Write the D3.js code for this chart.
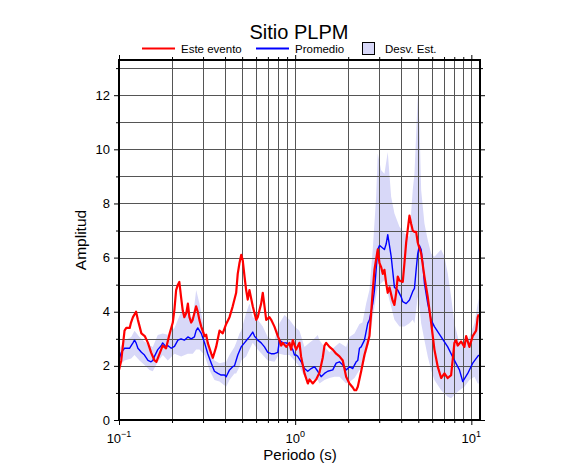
<!DOCTYPE html>
<html><head><meta charset="utf-8">
<script src="https://cdn.jsdelivr.net/npm/d3@7"></script>
<style>
body{margin:0;background:#fff;}
svg{display:block;font-family:"Liberation Sans",Arial,Helvetica,sans-serif;}
</style>
</head><body>
<svg id="c" width="586" height="475"></svg>
<script>
// ---- Data ----
const chartTitle = "Sitio PLPM";
const legendLabels = ["Este evento", "Promedio", "Desv. Est."];
const xTickValues = [0.1, 1, 10];
const xTickExponents = ["-1", "0", "1"];
const yTickValues = [0, 2, 4, 6, 8, 10, 12];

// Este evento (red)
const eventT = [0.100,0.103,0.1075,0.110,0.115,0.117,0.120,0.125,0.128,0.131,0.134,0.140,0.146,0.152,0.159,0.163,0.170,0.177,0.185,0.194,0.202,0.2065,0.211,0.216,0.220,0.225,0.230,0.235,0.241,0.246,0.251,0.257,0.262,0.274,0.280,0.286,0.293,0.306,0.3125,0.319,0.334,0.341,0.356,0.372,0.388,0.406,0.424,0.442,0.4625,0.472,0.483,0.494,0.504,0.516,0.527,0.538,0.550,0.5745,0.601,0.613,0.641,0.655,0.670,0.685,0.7145,0.731,0.763,0.797,0.815,0.833,0.851,0.889,0.928,0.949,0.969,1.013,1.058,1.08,1.13,1.18,1.206,1.259,1.316,1.374,1.434,1.467,1.50,1.566,1.635,1.709,1.784,1.863,1.947,2.033,2.123,2.17,2.22,2.267,2.37,2.473,2.582,2.64,2.70,2.757,2.819,2.943,3.009,3.077,3.142,3.212,3.285,3.354,3.43,3.58,3.66,3.743,3.822,3.908,4.081,4.172,4.266,4.454,4.553,4.65,4.755,4.861,4.964,5.075,5.19,5.418,5.657,5.913,6.174,6.446,6.739,7.036,7.345,7.678,8.018,8.198,8.371,8.752,9.137,9.343,9.754,10.18,10.65,10.87,11.02];
const eventA = [1.85,2.2,3.3,3.4,3.4,3.6,3.8,4.0,3.7,3.45,3.2,3.1,2.85,2.5,2.2,2.15,2.45,2.75,2.65,3.2,3.6,4.1,4.8,5.0,5.1,4.55,4.05,3.8,3.95,4.3,3.8,3.6,3.7,4.2,4.0,3.7,3.45,3.1,3.15,2.85,2.45,2.3,2.7,3.3,3.2,3.55,3.8,4.2,4.7,5.4,5.8,6.1,5.9,5.3,4.8,4.45,4.8,4.2,3.7,3.8,4.3,4.7,4.2,3.7,3.8,3.7,3.45,3.1,2.95,2.75,2.85,2.7,2.85,2.6,2.95,2.6,2.85,2.35,1.72,1.35,1.5,1.35,1.5,1.75,2.3,2.75,2.85,2.7,2.6,2.45,2.35,2.2,1.6,1.35,1.2,1.1,1.1,1.23,1.8,2.4,2.85,3.1,3.95,4.8,5.55,6.3,5.8,5.65,5.4,5.55,5.05,4.7,4.9,4.4,4.25,4.7,5.3,5.15,5.1,5.8,6.55,7.55,7.25,7.0,6.95,6.95,6.55,6.35,6.15,5.3,4.55,3.6,2.6,1.97,1.55,1.72,1.55,1.66,2.85,2.95,2.75,2.9,2.7,3.1,2.7,3.1,3.3,3.8,3.9];

// Promedio (blue)
const meanT = [0.100,0.103,0.1075,0.1147,0.120,0.1225,0.125,0.128,0.134,0.1395,0.146,0.152,0.1555,0.159,0.166,0.174,0.177,0.185,0.189,0.198,0.2065,0.216,0.225,0.235,0.246,0.257,0.268,0.274,0.280,0.293,0.306,0.319,0.334,0.348,0.364,0.380,0.397,0.406,0.424,0.442,0.4523,0.4723,0.4937,0.5155,0.5382,0.5502,0.5745,0.5875,0.6134,0.6412,0.6696,0.6989,0.7306,0.7629,0.7967,0.8146,0.8505,0.8891,0.9284,0.9692,0.9909,1.0132,1.0346,1.0817,1.1293,1.179,1.2326,1.2869,1.3437,1.4045,1.4667,1.5313,1.6346,1.709,1.7842,1.8628,1.9473,2.0334,2.123,2.17,2.2196,2.2666,2.3172,2.3695,2.4734,2.5823,2.6405,2.7567,2.819,2.882,2.943,3.0088,3.0768,3.2122,3.2848,3.354,3.5063,3.6613,3.8225,3.9962,4.0809,4.2658,4.4537,4.6497,4.7548,4.8611,4.964,5.0751,5.1897,5.2997,5.4181,5.6573,5.9131,6.1744,6.7386,7.3452,8.0181,8.5601,8.9368,9.5411,10.184,10.873,11.02];
const meanA = [2.2,2.5,2.65,2.65,2.85,2.95,2.85,2.65,2.5,2.4,2.2,2.15,2.2,2.35,2.6,2.75,2.85,2.7,2.75,2.65,2.72,2.95,3.0,2.95,3.07,3.0,3.07,3.3,3.4,3.2,2.85,2.45,2.1,1.8,1.72,1.66,1.66,1.6,1.85,1.97,2.0,2.4,2.7,2.85,3.0,3.07,3.25,3.1,2.95,2.85,2.7,2.5,2.45,2.45,2.5,2.95,2.85,2.85,2.77,2.6,2.4,2.4,2.35,2.15,1.9,1.8,1.9,1.97,1.8,1.6,1.72,1.8,1.85,2.1,2.15,2.03,1.85,1.97,1.9,2.03,2.15,2.2,2.65,2.7,2.95,3.57,3.7,4.3,4.8,5.55,6.3,6.45,6.4,6.3,6.5,6.85,6.05,4.9,4.8,4.55,4.37,4.3,4.43,4.75,4.86,5.55,6.15,6.45,6.3,5.8,5.05,4.3,3.7,3.45,3.07,2.7,2.2,1.85,1.42,1.72,2.1,2.35,2.4];

// Desv. Est. band (lower / upper)
const bandT = [0.100,0.1075,0.1173,0.1225,0.1307,0.1395,0.149,0.1555,0.166,0.1773,0.1892,0.2065,0.2254,0.2457,0.2623,0.2742,0.2863,0.3056,0.3263,0.3483,0.3719,0.4058,0.4237,0.4523,0.4625,0.4829,0.4937,0.527,0.5502,0.5745,0.6134,0.6548,0.6989,0.7629,0.8146,0.8697,0.9284,0.9909,1.0578,1.1293,1.2057,1.2587,1.3437,1.3738,1.4667,1.5655,1.6715,1.7842,1.9473,2.0334,2.1706,2.3172,2.4099,2.5293,2.6405,2.7567,2.882,2.943,3.0768,3.2122,3.354,3.5063,3.6613,3.908,4.1722,4.4537,4.6497,4.7548,4.964,5.0751,5.1897,5.4181,5.6573,5.9131,6.1744,6.7386,7.0355,7.3452,7.6784,8.0181,8.5601,9.1369,9.7541,10.414,10.873,11.02];
const bandLo = [2.0,2.2,2.27,2.4,2.2,2.03,1.85,1.8,2.15,2.4,2.2,2.45,2.35,2.45,2.45,2.6,2.6,2.4,1.85,1.48,1.42,1.23,1.48,1.72,1.72,1.97,2.2,2.35,2.6,2.85,2.6,2.4,2.2,2.15,2.45,2.4,2.4,2.2,1.97,1.6,1.48,1.5,1.48,1.35,1.48,1.55,1.6,1.6,1.35,1.4,1.55,1.85,1.9,2.45,2.95,3.8,4.55,4.9,5.05,5.17,4.68,4.18,3.7,3.45,3.45,3.57,3.7,3.57,4.55,4.2,3.57,2.95,2.35,1.85,1.48,1.1,0.98,0.86,0.8,0.92,1.1,1.23,1.48,1.6,1.35,1.35];
const bandHi = [2.6,2.95,3.07,3.3,3.07,2.9,2.77,2.7,3.14,3.2,3.15,3.4,4.0,3.95,3.75,4.8,4.3,3.3,2.6,2.2,2.1,2.15,2.4,2.7,2.85,3.2,3.3,3.95,4.3,3.8,3.7,3.45,3.07,2.95,3.57,3.88,3.7,3.45,3.3,2.7,2.85,2.95,3.14,2.95,2.7,2.5,2.7,2.85,2.7,3.07,3.2,3.55,3.6,4.3,4.8,6.3,8.25,9.85,9.23,9.1,9.9,8.25,7.63,7.14,6.9,6.77,8.5,9.1,11.95,10.95,8.5,7.26,6.65,6.15,6.03,6.3,6.03,5.42,4.55,3.57,2.83,2.83,3.07,3.57,4.3,4.5];

const gridXValues = [0.2,0.3,0.4,0.5,0.6,0.7,0.8,0.9,1,2,3,4,5,6,7,8,9,10];
const gridYValues = [1,2,3,4,5,6,7,8,9,10,11,12,13];

// ---- Layout ----
const L = 119, R = 480, T = 60, B = 420;
const x = d3.scaleLog().domain([0.1, 11.2]).range([L, R]);
const y = d3.scaleLinear().domain([0, 13.3]).range([B, T]);
const svg = d3.select("#c");

svg.append("defs").append("clipPath").attr("id","clip")
  .append("rect").attr("x",L).attr("y",T).attr("width",R-L).attr("height",B-T);

const plot = svg.append("g").attr("clip-path","url(#clip)");

// band
const band = bandT.map((t,i)=>({t, lo:bandLo[i], hi:bandHi[i]}));
plot.append("path").datum(band)
  .attr("d", d3.area().x(d=>x(d.t)).y0(d=>y(d.lo)).y1(d=>y(d.hi)))
  .attr("fill","#d8d8f8");

// grid
plot.append("g").selectAll("line").data(gridXValues).join("line")
  .attr("x1",d=>Math.round(x(d))+0.5).attr("x2",d=>Math.round(x(d))+0.5)
  .attr("y1",T).attr("y2",B).attr("stroke","#555").attr("stroke-width",1);
plot.append("g").selectAll("line").data(gridYValues).join("line")
  .attr("y1",d=>Math.round(y(d))+0.5).attr("y2",d=>Math.round(y(d))+0.5)
  .attr("x1",L).attr("x2",R).attr("stroke","#555").attr("stroke-width",1);

// lines
const line = d3.line().x(d=>x(d[0])).y(d=>y(d[1]));
plot.append("path").datum(meanT.map((t,i)=>[t,meanA[i]]))
  .attr("d",line).attr("fill","none").attr("stroke","#0000ff").attr("stroke-width",1.4)
  .attr("stroke-linejoin","round");
plot.append("path").datum(eventT.map((t,i)=>[t,eventA[i]]))
  .attr("d",line).attr("fill","none").attr("stroke","#ff0000").attr("stroke-width",2.2)
  .attr("stroke-linejoin","round");

// axes ticks (outward on all sides)
const minorX = gridXValues.filter(v=>xTickValues.indexOf(v)<0);
const yMinor = [1,3,5,7,9,11,13];
function ticksAxis(axisFn, scale, major, minor, transform){
  svg.append("g").attr("transform",transform)
    .call(axisFn(scale).tickValues(major).tickSize(5).tickFormat(""))
    .call(g=>g.select(".domain").remove());
  svg.append("g").attr("transform",transform)
    .call(axisFn(scale).tickValues(minor).tickSize(3).tickFormat(""))
    .call(g=>g.select(".domain").remove());
}
ticksAxis(d3.axisBottom, x, xTickValues, minorX, `translate(0,${B})`);
ticksAxis(d3.axisTop, x, xTickValues, minorX, `translate(0,${T})`);
ticksAxis(d3.axisLeft, y, yTickValues, yMinor, `translate(${L},0)`);
ticksAxis(d3.axisRight, y, yTickValues, yMinor, `translate(${R},0)`);
svg.selectAll(".tick line").attr("stroke","#000").attr("stroke-width",1);

// frame
svg.append("rect").attr("x",L).attr("y",T).attr("width",R-L).attr("height",B-T)
  .attr("fill","none").attr("stroke","#000").attr("stroke-width",2);

// y tick labels
svg.append("g").selectAll("text").data(yTickValues).join("text")
  .attr("x",L-9).attr("y",d=>y(d)).attr("dy","0.35em")
  .attr("text-anchor","end").attr("font-size",13).text(d=>d);

// x tick labels with superscripts
const xl = svg.append("g").selectAll("text").data(xTickValues).join("text")
  .attr("x",(d)=>x(d)).attr("y",443).attr("text-anchor","middle").attr("font-size",13);
xl.append("tspan").text("10");
xl.append("tspan").attr("dy",-6).attr("font-size",9).text((d,i)=>xTickExponents[i].replace("-","\u2212"));

// axis titles
svg.append("text").attr("x",300).attr("y",460).attr("text-anchor","middle")
  .attr("font-size",15).text("Periodo (s)");
svg.append("text").attr("transform","translate(86,240) rotate(-90)")
  .attr("text-anchor","middle").attr("font-size",15.5).text("Amplitud");

// title
svg.append("text").attr("x",299).attr("y",39).attr("text-anchor","middle")
  .attr("font-size",20).text(chartTitle);

// legend
const lg = svg.append("g");
lg.append("line").attr("x1",142).attr("x2",175).attr("y1",48.5).attr("y2",48.5)
  .attr("stroke","#ff0000").attr("stroke-width",2.2);
lg.append("text").attr("x",181).attr("y",53).attr("font-size",11.5).text(legendLabels[0]);
lg.append("line").attr("x1",256).attr("x2",289).attr("y1",48.5).attr("y2",48.5)
  .attr("stroke","#0000ff").attr("stroke-width",2.2);
lg.append("text").attr("x",295).attr("y",53).attr("font-size",11.5).text(legendLabels[1]);
lg.append("rect").attr("x",362.5).attr("y",42.5).attr("width",12).attr("height",12)
  .attr("fill","#d8d8f8").attr("stroke","#000").attr("stroke-width",1);
lg.append("text").attr("x",385).attr("y",53).attr("font-size",11.5).text(legendLabels[2]);
</script>
</body></html>
